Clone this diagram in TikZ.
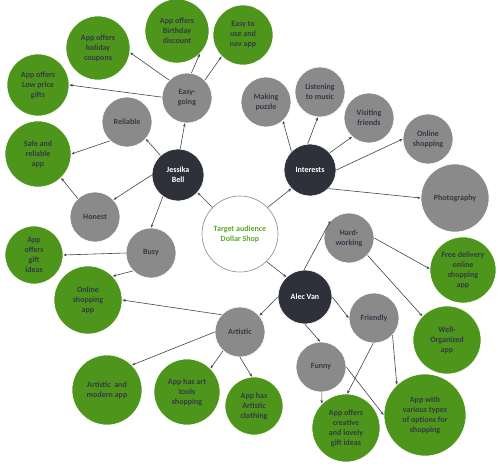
\documentclass[tikz,border=0pt]{standalone}
\usepackage{fontspec}
\setmainfont{Carlito}
\usetikzlibrary{arrows.meta}
\definecolor{grn}{HTML}{4D961B}
\definecolor{gry}{HTML}{8A8A8A}
\definecolor{drk}{HTML}{2E3139}
\definecolor{txt}{HTML}{353A45}
\definecolor{tgreen}{HTML}{5BA829}
\definecolor{lnc}{HTML}{3F4450}
\begin{document}
\begin{tikzpicture}[x=1pt,y=-1pt,
  bub/.style={circle,inner sep=0pt,align=center,font=\bfseries\fontsize{8}{10}\selectfont,draw=white,line width=0.6pt},
  gn/.style={bub,fill=grn,text=txt},
  gy/.style={bub,fill=gry,text=txt},
  dk/.style={bub,fill=drk,text=white},
  tg/.style={bub,fill=white,draw=gry,text=tgreen},
  arr/.style={draw=lnc,line width=0.6pt,-{Stealth[length=3.5pt,width=2.6pt]}}]
\useasboundingbox (0,0) rectangle (500,471);
% centres
\node[tg,minimum size=76pt] (tgt) at (240,234) {Target audience\\Dollar Shop};
\node[dk,minimum size=52pt] (jb) at (178,175) {Jessika\\Bell};
\node[dk,minimum size=52pt] (int) at (310,170) {Interests};
\node[dk,minimum size=54pt] (av) at (305,297) {Alec Van};
% Jessika branch
\node[gy,minimum size=50pt] (eg) at (187,98) {Easy-\\going};
\node[gy,minimum size=50pt] (rel) at (127,122) {Reliable};
\node[gy,minimum size=50pt] (hon) at (95,217) {Honest};
\node[gy,minimum size=50pt] (busy) at (151,253) {Busy};
\node[gn,minimum size=64pt] (hol) at (98,48) {App offers\\holiday\\coupons};
\node[gn,minimum size=64pt] (bday) at (177,31) {App offers\\Birthday\\discount};
\node[gn,minimum size=60pt] (easy) at (243,35) {Easy to\\use and\\nav app};
\node[gn,minimum size=62pt] (low) at (38,85) {App offers\\Low price\\gifts};
\node[gn,minimum size=66pt] (safe) at (38,154) {Safe and\\reliable\\app};
\node[gn,minimum size=58pt] (gift) at (34,255) {App\\offers\\gift\\ideas};
\node[gn,minimum size=68pt] (osa) at (88,300) {Online\\shopping\\app};
% Interests branch
\node[gy,minimum size=50pt] (puz) at (266,102) {Making\\puzzle};
\node[gy,minimum size=50pt] (mus) at (320,92) {Listening\\to music};
\node[gy,minimum size=50pt] (vis) at (369,118) {Visiting\\friends};
\node[gy,minimum size=50pt] (osh) at (428,139) {Online\\shopping};
\node[gy,minimum size=68pt] (pho) at (455,198) {Photography};
% Alec branch
\node[gy,minimum size=50pt] (hw) at (349,238) {Hard-\\working};
\node[gn,minimum size=66pt] (free) at (463,270) {Free delivery\\online\\shopping\\app};
\node[gy,minimum size=50pt] (fr) at (374,318) {Friendly};
\node[gn,minimum size=68pt] (wo) at (447,340) {Well-\\Organized\\app};
\node[gy,minimum size=50pt] (art) at (240,332) {Artistic};
\node[gn,minimum size=70pt] (amod) at (107,390) {Artistic\ \ and\\modern app};
\node[gn,minimum size=66pt] (tools) at (187,392) {App has art\\tools\\shopping};
\node[gn,minimum size=58pt] (cloth) at (254,406) {App has\\Artistic\\clothing};
\node[gy,minimum size=50pt] (fun) at (321,367) {Funny};
\node[gn,minimum size=68pt] (cre) at (346,428) {App offers\\creative\\and lovely\\gift ideas};
\node[gn,minimum size=82pt] (var) at (425,415) {App with\\various types\\of options for\\shopping};
% connectors
\draw[arr] (tgt.136) -- (jb.-42);
\draw[arr] (tgt.44) -- (int.225);
\draw[arr] (tgt.-46) -- (av.133);
\draw[arr] (jb.85) -- (eg.-95);
\draw[arr] (jb.132) -- (rel.-42);
\draw[arr] (jb.180) -- (hon.43);
\draw[arr] (jb.-125) -- (busy.90);
\draw[arr] (eg.135) -- (hol.-8);
\draw[arr] (eg.80) -- (bday.-45);
\draw[arr] (eg.45) -- (easy.-135);
\draw[arr] (eg.178) -- (low.0);
\draw[arr] (rel.228) -- (safe.0);
\draw[arr] (hon.133) -- (safe.-46);
\draw[arr] (busy.180) -- (gift.0);
\draw[arr] (busy.225) -- (osa.44);
\draw[arr] (int.135) -- (puz.-48);
\draw[arr] (int.95) -- (mus.-95);
\draw[arr] (int.41) -- (vis.-132);
\draw[arr] (int.0) -- (osh.180);
\draw[arr] (int.-45) -- (pho.180);
\draw[arr] (av.92) -- (hw.137);
\draw[arr] (av.0) -- (fr.180);
\draw[arr] (av.180) -- (art.40);
\draw[arr] (av.-90) -- (fun.92);
\draw[arr] (hw.0) -- (free.178);
\draw[arr] (hw.-43) -- (wo.136);
\draw[arr] (art.137) -- (osa.0);
\draw[arr] (art.180) -- (amod.45);
\draw[arr] (art.228) -- (tools.45);
\draw[arr] (art.-90) -- (cloth.94);
\draw[arr] (fr.-92) -- (cre.88);
\draw[arr] (fr.-43) -- (var.133);
\draw[arr] (fun.-88) -- (cre.135);
\draw[arr] (fun.0) -- (var.180);
\end{tikzpicture}
\end{document}
